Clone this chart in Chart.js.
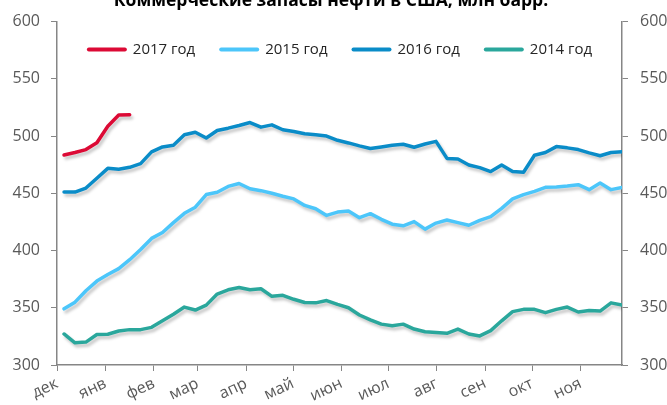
<!DOCTYPE html>
<html>
<head>
<meta charset="utf-8">
<script src="https://cdn.jsdelivr.net/npm/chart.js@4"></script>
<style>
  html, body { margin: 0; padding: 0; background: #fff; }
</style>
</head>
<body>
<canvas id="stocks-chart" width="667" height="405"></canvas>
<script>
'use strict';

// ***** DATA *****
let chartTitle = 'Коммерческие запасы нефти в США, млн барр.';
let monthLabels = ['дек', 'янв', 'фев', 'мар', 'апр', 'май', 'июн', 'июл', 'авг', 'сен', 'окт', 'ноя'];
let monthStartDays = [0, 31, 62, 90, 121, 151, 182, 212, 243, 274, 304, 335];
let seriesNames = ['2017 год', '2015 год', '2016 год', '2014 год'];

let values2017 = [483.4, 485.6, 488.2, 494.2, 508.6, 518.4, 518.6];
let values2015 = [349.1, 354.9, 364.9, 373.3, 379.0, 384.2, 392.0, 400.9, 410.6, 415.8, 424.4, 432.5, 437.9,
  448.9, 450.9, 456.0, 458.6, 454.0, 452.3, 450.0, 447.4, 445.1, 439.4, 436.5, 430.7, 433.6,
  434.5, 428.7, 432.2, 427.3, 423.0, 421.6, 425.3, 418.7, 424.0, 426.7, 424.4, 422.1, 426.4,
  429.6, 436.8, 445.1, 448.9, 451.7, 455.2, 455.5, 456.3, 457.5, 453.2, 458.9, 453.2, 455.2];
let values2016 = [451.1, 451.1, 454.6, 463.2, 471.8, 471.0, 472.7, 475.9, 486.2, 490.5, 492.0, 501.1, 503.4,
  498.3, 504.9, 506.9, 509.2, 511.8, 507.8, 509.8, 505.5, 504.0, 502.0, 501.1, 500.0, 496.3,
  494.0, 491.4, 489.1, 490.5, 492.0, 492.8, 490.2, 493.1, 495.4, 480.5, 479.9, 474.7, 472.4,
  469.0, 474.7, 469.0, 468.4, 483.3, 485.6, 490.8, 489.7, 488.2, 485.3, 482.8, 485.6, 486.2];
let values2014 = [327.1, 319.4, 320.0, 326.6, 326.9, 329.7, 330.9, 330.9, 332.9, 338.6, 344.3, 350.6, 348.0,
  352.3, 362.0, 365.7, 367.7, 365.7, 366.6, 360.0, 360.9, 357.4, 354.6, 354.3, 356.3, 352.9,
  350.0, 343.7, 339.4, 335.7, 334.3, 335.7, 331.4, 329.1, 328.3, 327.7, 331.4, 327.1, 325.4,
  330.0, 338.6, 346.6, 348.6, 348.6, 345.7, 348.6, 350.6, 346.3, 347.7, 347.1, 354.3, 352.3];

// ***** SETTINGS *****
let firstWeekDay = 4.5;
let daysPerWeek = 7;
let lastDay = firstWeekDay + daysPerWeek * 51;
let axisColor = '#868686';
let labelColor = '#595959';
let fontFamily = '"Open Sans", "DejaVu Sans", sans-serif';

// **** HELPERS ****
function toPoints(values) {
  let points = [];
  for (let i = 0; i < values.length; i++) {
    points.push({ x: firstWeekDay + daysPerWeek * i, y: values[i] });
  }
  return points;
}

function makeDataset(label, values, color) {
  return {
    label: label,
    data: toPoints(values),
    borderColor: color,
    backgroundColor: color,
    borderWidth: 3.5,
    pointRadius: 0,
    tension: 0,
    borderCapStyle: 'round',
    borderJoinStyle: 'round',
    yAxisID: 'y'
  };
}

// soft shadow under the lines
let shadowPlugin = {
  id: 'lineShadow',
  beforeDatasetsDraw(chart) {
    let c = chart.ctx;
    c.save();
    c.shadowColor = 'rgba(0, 0, 0, 0.22)';
    c.shadowBlur = 3;
    c.shadowOffsetX = 2;
    c.shadowOffsetY = 3;
  },
  afterDatasetsDraw(chart) {
    chart.ctx.restore();
  }
};

// one-row legend inside the plot area, near the top
let legendPlugin = {
  id: 'rowLegend',
  afterDraw(chart) {
    let c = chart.ctx;
    let area = chart.chartArea;
    let lineLen = 40;
    let gap = 6;
    let spacing = 24;
    c.save();
    c.font = '15px ' + fontFamily;
    let widths = chart.data.datasets.map(function (ds) {
      return lineLen + gap + c.measureText(ds.label).width;
    });
    let total = widths.reduce(function (a, b) { return a + b; }, 0) + spacing * (widths.length - 1);
    let x = (area.left + area.right) / 2 - total / 2;
    let y = area.top + 28;
    chart.data.datasets.forEach(function (ds, i) {
      c.strokeStyle = ds.borderColor;
      c.lineWidth = 4;
      c.lineCap = 'round';
      c.beginPath();
      c.moveTo(x + 2, y);
      c.lineTo(x + lineLen - 2, y);
      c.stroke();
      c.fillStyle = '#262626';
      c.textAlign = 'left';
      c.textBaseline = 'middle';
      c.fillText(ds.label, x + lineLen + gap, y);
      x += widths[i] + spacing;
    });
    c.restore();
  }
};

// title sits partly above the canvas edge, as in the picture
let titlePlugin = {
  id: 'cutTitle',
  afterDraw(chart) {
    let c = chart.ctx;
    c.save();
    c.font = 'bold 17.5px ' + fontFamily;
    c.fillStyle = '#000';
    c.textAlign = 'center';
    c.textBaseline = 'alphabetic';
    c.fillText(chartTitle, 331, 5.5);
    c.restore();
  }
};

// ***** CHART *****
let ctx = document.getElementById('stocks-chart');

let yAxisCommon = {
  min: 300,
  max: 600,
  ticks: {
    stepSize: 50,
    color: labelColor,
    font: { family: fontFamily, size: 16 },
    padding: 11
  },
  grid: {
    display: true,
    drawOnChartArea: false,
    drawTicks: true,
    tickLength: 6,
    color: axisColor
  },
  border: { display: true, color: axisColor, width: 1.5 }
};

let chartObj = {
  type: 'line',
  data: {
    datasets: [
      makeDataset(seriesNames[0], values2017, '#DC0A35'),
      makeDataset(seriesNames[1], values2015, '#4CC6FA'),
      makeDataset(seriesNames[2], values2016, '#0A8CC8'),
      makeDataset(seriesNames[3], values2014, '#2AA79C')
    ]
  },
  options: {
    responsive: false,
    animation: false,
    devicePixelRatio: 1,
    layout: { padding: { top: 19, left: 0, right: 0, bottom: 0 } },
    plugins: {
      legend: { display: false },
      tooltip: { enabled: false }
    },
    scales: {
      x: {
        type: 'linear',
        min: 0,
        max: lastDay,
        afterBuildTicks(scale) {
          scale.ticks = monthStartDays.map(function (d) { return { value: d }; });
        },
        afterFit(scale) { scale.height = 40; },
        ticks: {
          autoSkip: false,
          minRotation: 25,
          maxRotation: 25,
          color: labelColor,
          font: { family: fontFamily, size: 16 },
          padding: 3,
          callback(value, index) { return monthLabels[index]; }
        },
        grid: {
          display: true,
          drawOnChartArea: false,
          drawTicks: true,
          tickLength: 6,
          color: axisColor
        },
        border: { display: true, color: axisColor, width: 1.5 }
      },
      y: Object.assign({}, yAxisCommon, {
        position: 'left',
        afterFit(scale) { scale.width = 57; }
      }),
      y2: Object.assign({}, yAxisCommon, {
        position: 'right',
        afterFit(scale) { scale.width = 45; },
        ticks: Object.assign({}, yAxisCommon.ticks, { padding: 12 })
      })
    }
  },
  plugins: [shadowPlugin, legendPlugin, titlePlugin]
};

new Chart(ctx, chartObj);
</script>
</body>
</html>
